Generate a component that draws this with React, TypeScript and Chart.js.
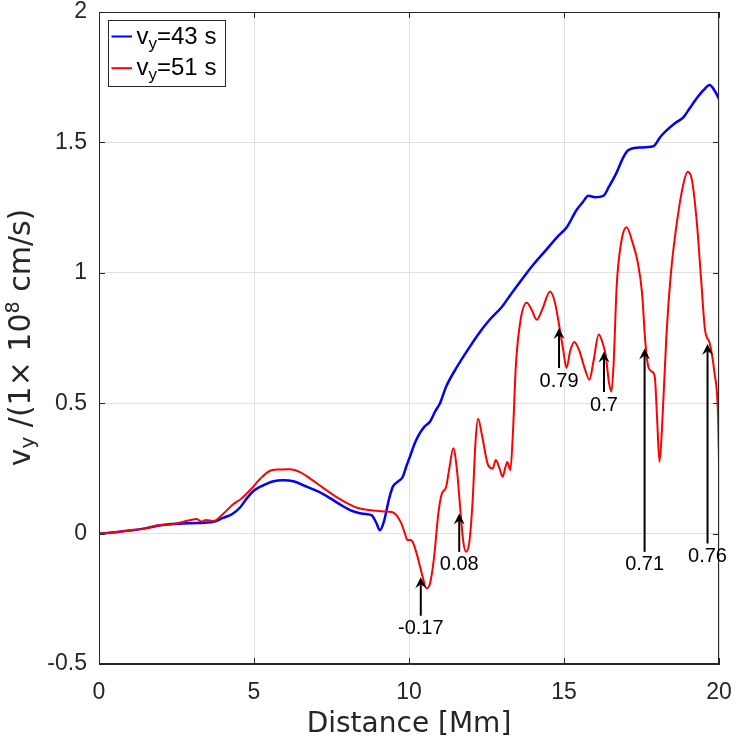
import { useEffect, useRef } from 'react'
import { Chart, registerables } from 'chart.js'

Chart.register(...registerables)

// distance [Mm] / velocity pairs
const blueX = [0, 0.5, 1.0, 1.5, 1.9, 2.2, 2.6, 3.0, 3.4, 3.7, 4.0, 4.3, 4.55, 4.8, 5.0, 5.3, 5.6, 5.94, 6.3, 6.7, 7.1, 7.45, 7.8, 8.1, 8.35, 8.6, 8.8, 8.95, 9.06, 9.2, 9.35, 9.48, 9.65, 9.8, 9.92, 10.03, 10.2, 10.35, 10.5, 10.68, 10.85, 11.0, 11.2, 11.5, 11.97, 12.3, 12.6, 13.0, 13.3, 13.58, 14.0, 14.44, 14.8, 15.09, 15.4, 15.6, 15.79, 16.0, 16.27, 16.45, 16.7, 16.9, 17.07, 17.4, 17.88, 18.1, 18.3, 18.6, 18.85, 19.05, 19.27, 19.5, 19.7, 19.85, 20.0]
const blueY = [0, 0.005, 0.012, 0.02, 0.03, 0.035, 0.038, 0.04, 0.042, 0.045, 0.06, 0.075, 0.1, 0.14, 0.165, 0.185, 0.2, 0.205, 0.2, 0.18, 0.16, 0.136, 0.11, 0.09, 0.08, 0.075, 0.07, 0.04, 0.013, 0.05, 0.13, 0.18, 0.2, 0.218, 0.26, 0.295, 0.35, 0.385, 0.41, 0.43, 0.47, 0.5, 0.564, 0.63, 0.718, 0.775, 0.82, 0.87, 0.92, 0.965, 1.03, 1.09, 1.14, 1.175, 1.24, 1.27, 1.295, 1.29, 1.295, 1.33, 1.385, 1.44, 1.47, 1.48, 1.485, 1.52, 1.545, 1.575, 1.596, 1.63, 1.667, 1.7, 1.72, 1.7, 1.667]

const redX = [0, 0.5, 1.0, 1.5, 1.9, 2.3, 2.7, 2.95, 3.15, 3.3, 3.45, 3.7, 4.0, 4.3, 4.6, 4.9, 5.2, 5.5, 5.8, 6.15, 6.5, 6.8, 7.2, 7.6, 8.0, 8.3, 8.6, 8.9, 9.2, 9.45, 9.6, 9.75, 9.87, 9.95, 10.05, 10.15, 10.3, 10.45, 10.56, 10.68, 10.8, 10.95, 11.05, 11.2, 11.3, 11.43, 11.55, 11.65, 11.75, 11.84, 11.95, 12.05, 12.15, 12.23, 12.35, 12.55, 12.7, 12.8, 12.92, 13.02, 13.1, 13.17, 13.27, 13.35, 13.45, 13.6, 13.8, 13.95, 14.12, 14.3, 14.55, 14.7, 14.87, 14.98, 15.08, 15.2, 15.33, 15.5, 15.65, 15.82, 15.95, 16.12, 16.25, 16.35, 16.45, 16.53, 16.6, 16.7, 16.85, 17.02, 17.2, 17.38, 17.52, 17.62, 17.72, 17.85, 17.93, 18.0, 18.08, 18.16, 18.3, 18.45, 18.65, 18.85, 18.99, 19.12, 19.28, 19.42, 19.55, 19.7, 19.85, 19.97, 20.0]
const redY = [0, 0.005, 0.012, 0.02, 0.032, 0.035, 0.045, 0.052, 0.056, 0.046, 0.052, 0.048, 0.075, 0.11, 0.135, 0.17, 0.21, 0.24, 0.246, 0.247, 0.235, 0.212, 0.178, 0.145, 0.117, 0.1, 0.092, 0.088, 0.085, 0.083, 0.07, 0.04, 0.0, -0.025, -0.025, -0.04, -0.1, -0.17, -0.21, -0.19, -0.1, 0.08, 0.15, 0.18, 0.25, 0.327, 0.24, 0.1, -0.03, -0.07, -0.03, 0.12, 0.36, 0.44, 0.38, 0.263, 0.25, 0.282, 0.25, 0.218, 0.25, 0.275, 0.243, 0.38, 0.65, 0.82, 0.885, 0.86, 0.82, 0.86, 0.928, 0.89, 0.78, 0.7, 0.635, 0.7, 0.735, 0.7, 0.64, 0.59, 0.66, 0.763, 0.73, 0.68, 0.58, 0.545, 0.65, 0.95, 1.12, 1.175, 1.12, 1.04, 0.92, 0.74, 0.64, 0.62, 0.6, 0.45, 0.275, 0.4, 0.75, 1.0, 1.2, 1.34, 1.387, 1.36, 1.2, 0.98, 0.78, 0.73, 0.62, 0.45, 0.27]

const seriesNames = ['43 s', '51 s']

const xTicks = [0, 5, 10, 15, 20]
const yTicks = [-0.5, 0, 0.5, 1, 1.5, 2]
const yTickLabels = ['-0.5', '0', '0.5', '1', '1.5', '2']

// arrow annotations: x position, arrow tip, arrow tail, label
const annX = [10.38, 11.62, 14.84, 16.29, 17.6, 19.63]
const annTip = [-0.167, 0.077, 0.788, 0.698, 0.71, 0.727]
const annTail = [-0.315, -0.07, 0.635, 0.543, -0.07, -0.038]
const annLabel = ['-0.17', '0.08', '0.79', '0.7', '0.71', '0.76']

const xTitle = 'Distance [Mm]'

const AXIS = '#262626'
const SANS = '"Liberation Sans", Arial, Helvetica, sans-serif'
const DEJAVU = '"DejaVu Sans", sans-serif'

const overlay = {
  id: 'overlay',
  afterDatasetsDraw(chart: any) {
    const { ctx, chartArea: a, scales } = chart
    const x = scales.x
    const y = scales.y
    ctx.save()

    // box
    ctx.strokeStyle = AXIS
    ctx.lineWidth = 1
    ctx.strokeRect(a.left + 0.5, a.top + 0.5, a.right - a.left - 1, a.bottom - a.top - 1)

    // inward tick marks
    ctx.beginPath()
    xTicks.forEach(v => {
      const px = Math.round(x.getPixelForValue(v)) + 0.5
      ctx.moveTo(px, a.bottom); ctx.lineTo(px, a.bottom - 6)
      ctx.moveTo(px, a.top); ctx.lineTo(px, a.top + 6)
    })
    yTicks.forEach(v => {
      const py = Math.round(y.getPixelForValue(v)) + 0.5
      ctx.moveTo(a.left, py); ctx.lineTo(a.left + 6, py)
      ctx.moveTo(a.right, py); ctx.lineTo(a.right - 6, py)
    })
    ctx.stroke()

    // arrows + labels
    ctx.strokeStyle = '#000'
    ctx.fillStyle = '#000'
    ctx.lineWidth = 2
    ctx.font = `20px ${SANS}`
    ctx.textAlign = 'center'
    ctx.textBaseline = 'middle'
    annX.forEach((v, i) => {
      const px = x.getPixelForValue(v)
      const tip = y.getPixelForValue(annTip[i])
      const tail = y.getPixelForValue(annTail[i])
      ctx.beginPath()
      ctx.moveTo(px, tail)
      ctx.lineTo(px, tip + 6)
      ctx.stroke()
      ctx.beginPath()
      ctx.moveTo(px, tip)
      ctx.lineTo(px - 5.5, tip + 11)
      ctx.lineTo(px, tip + 7)
      ctx.lineTo(px + 5.5, tip + 11)
      ctx.closePath()
      ctx.fill()
      ctx.fillText(annLabel[i], px, tail + 13)
    })

    // legend
    const lx = 108.5
    const ly = 20.5
    ctx.fillStyle = '#fff'
    ctx.fillRect(lx, ly, 117, 66)
    ctx.strokeStyle = AXIS
    ctx.lineWidth = 1
    ctx.strokeRect(lx, ly, 117, 66)
    ctx.textAlign = 'left'
    ctx.textBaseline = 'alphabetic'
    chart.data.datasets.forEach((ds: any, i: number) => {
      const base = 43.5 + i * 31.7
      ctx.strokeStyle = ds.borderColor
      ctx.lineWidth = 2
      ctx.beginPath()
      ctx.moveTo(111.5, base - 7)
      ctx.lineTo(132, base - 7)
      ctx.stroke()
      ctx.fillStyle = '#000'
      let cx = 136.5
      ctx.font = `24px ${SANS}`
      ctx.fillText('v', cx, base)
      cx += ctx.measureText('v').width
      ctx.font = `17px ${SANS}`
      ctx.fillText('y', cx, base + 5)
      cx += ctx.measureText('y').width
      ctx.font = `24px ${SANS}`
      ctx.fillText('=' + seriesNames[i], cx, base)
    })
    ctx.restore()
  },
  afterDraw(chart: any) {
    const { ctx, chartArea: a } = chart
    ctx.save()
    ctx.fillStyle = AXIS
    ctx.textBaseline = 'alphabetic'

    // x title
    ctx.font = `28px ${DEJAVU}`
    ctx.textAlign = 'center'
    ctx.fillText(xTitle, (a.left + a.right) / 2, 731.5)

    // y title with sub/superscript
    const parts = [
      { t: 'v', f: `30px ${DEJAVU}`, dy: 0 },
      { t: 'y', f: `20px ${DEJAVU}`, dy: 4 },
      { t: ' /(1× 10', f: `30px ${DEJAVU}`, dy: 0 },
      { t: '8', f: `19px ${DEJAVU}`, dy: -11 },
      { t: ' cm/s)', f: `30px ${DEJAVU}`, dy: 0 },
    ]
    let total = 0
    const widths = parts.map(p => { ctx.font = p.f; const w = ctx.measureText(p.t).width; total += w; return w })
    ctx.translate(30, 337.5)
    ctx.rotate(-Math.PI / 2)
    ctx.textAlign = 'left'
    let cx = -total / 2
    parts.forEach((p, i) => {
      ctx.font = p.f
      ctx.fillText(p.t, cx, p.dy)
      cx += widths[i]
    })
    ctx.restore()
  },
}

export default function App() {
  const canvasRef = useRef<HTMLCanvasElement>(null)
  const chartRef = useRef<Chart | null>(null)

  useEffect(() => {
    if (!canvasRef.current) return
    chartRef.current?.destroy()

    chartRef.current = new Chart(canvasRef.current, {
      type: 'line',
      data: {
        datasets: [
          {
            label: seriesNames[0],
            data: blueX.map((v, i) => ({ x: v, y: blueY[i] })),
            borderColor: '#0000ff',
            borderWidth: 2.5,
            pointRadius: 0,
            cubicInterpolationMode: 'monotone',
            order: 1,
          },
          {
            label: seriesNames[1],
            data: redX.map((v, i) => ({ x: v, y: redY[i] })),
            borderColor: '#ff0000',
            borderWidth: 2,
            pointRadius: 0,
            cubicInterpolationMode: 'monotone',
            order: 0,
          },
        ],
      },
      options: {
        animation: false,
        responsive: true,
        maintainAspectRatio: false,
        layout: { padding: { left: 0, top: 12, right: 20, bottom: 0 } },
        plugins: {
          legend: { display: false },
          tooltip: { enabled: false },
        },
        scales: {
          x: {
            type: 'linear',
            min: 0,
            max: 20,
            afterBuildTicks: (s: any) => { s.ticks = xTicks.map(v => ({ value: v })) },
            afterFit: (s: any) => { s.height = 75; s.paddingLeft = 0; s.paddingRight = 0 },
            ticks: { color: AXIS, font: { family: SANS, size: 23 }, padding: 15, maxRotation: 0 },
            grid: { color: '#e0e0e0', drawTicks: false },
            border: { color: AXIS },
          },
          y: {
            type: 'linear',
            min: -0.5,
            max: 2,
            afterBuildTicks: (s: any) => { s.ticks = yTicks.map(v => ({ value: v })) },
            afterFit: (s: any) => { s.width = 99; s.paddingTop = 0; s.paddingBottom = 0 },
            ticks: {
              color: AXIS,
              font: { family: SANS, size: 23 },
              padding: 12,
              callback: (v: any) => yTickLabels[yTicks.indexOf(Number(v))],
            },
            grid: { color: '#e0e0e0', drawTicks: false },
            border: { color: AXIS },
          },
        },
      },
      plugins: [overlay],
    })

    return () => chartRef.current?.destroy()
  }, [])

  return (
    <div style={{ position: 'absolute', left: 0, top: 0, width: 739, height: 739, background: '#fff' }}>
      <canvas ref={canvasRef} />
    </div>
  )
}
